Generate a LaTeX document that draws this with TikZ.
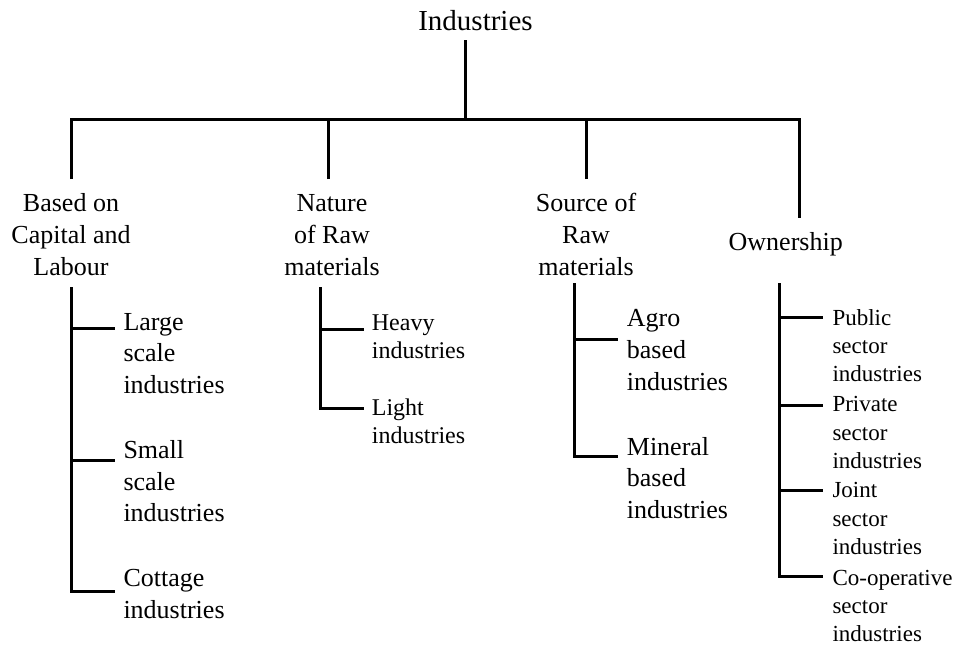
\documentclass[tikz,border=0pt]{standalone}
\usepackage{fontspec}
\setmainfont{Liberation Serif}
\begin{document}
\begin{tikzpicture}[x=1pt,y=-1pt,
  ln/.style={line width=3pt,line join=miter,line cap=butt},
  lzero/.style={font=\fontsize{29}{34}\selectfont,anchor=base,inner sep=0pt},
  lone/.style={font=\fontsize{26}{31.7}\selectfont,align=center,anchor=base,inner sep=0pt},
  ltwo/.style={font=\fontsize{26}{31.7}\selectfont,align=left,anchor=base west,inner sep=0pt},
  lthree/.style={font=\fontsize{24}{28.5}\selectfont,align=left,anchor=base west,inner sep=0pt},
  lfour/.style={font=\fontsize{23}{28.3}\selectfont,align=left,anchor=base west,inner sep=0pt}]
\useasboundingbox (0,0) rectangle (956,646);
% texts (anchor = baseline of the last line)
\node[lzero] (ind) at (475.5,30) {Industries};
\node[lone] (cap) at (71,275) {Based on\\Capital and\\Labour};
\node[lone] (nat) at (332,275) {Nature\\of Raw\\materials};
\node[lone] (src) at (586,275) {Source of\\Raw\\materials};
\node[lone] (own) at (785.7,250) {Ownership};
\node[ltwo] (large) at (123.3,393.4) {Large\\scale\\industries};
\node[ltwo] (small) at (123.3,521.7) {Small\\scale\\industries};
\node[ltwo] (cott) at (123.3,618.4) {Cottage\\industries};
\node[lthree] (heavy) at (371.7,358.5) {Heavy\\industries};
\node[lthree] (light) at (371.7,443.5) {Light\\industries};
\node[ltwo] (agro) at (626.7,390.1) {Agro\\based\\industries};
\node[ltwo] (mine) at (626.7,518.4) {Mineral\\based\\industries};
\node[lfour] (pub) at (832.3,381.6) {Public\\sector\\industries};
\node[lfour] (priv) at (832.3,468.3) {Private\\sector\\industries};
\node[lfour] (joint) at (832.3,554.3) {Joint\\sector\\industries};
\node[lfour] (coop) at (832.3,641.6) {Co-operative\\sector\\industries};
% top tree
\coordinate (t0) at (465.5,40);
\coordinate (b0) at (465.5,119.5);
\coordinate (bl) at (71.5,119.5);
\coordinate (br) at (799.5,119.5);
\coordinate (c1) at (71.5,179);
\coordinate (c2) at (328.5,179);
\coordinate (c3) at (586.5,179);
\coordinate (c4) at (799.5,218);
\draw[ln] (t0) -- (b0);
\draw[ln] (c1) -- (bl) -- (br) -- (c4);
\draw[ln] (c2) -- (c2 |- bl);
\draw[ln] (c3) -- (c3 |- bl);
% capital and labour
\coordinate (ca) at (71.5,287);
\coordinate (ca1) at (115,328.5);
\coordinate (ca2) at (115,460.5);
\coordinate (ca3) at (115,591.5);
\draw[ln] (ca) -- (ca |- ca3) -- (ca3);
\draw[ln] (ca |- ca1) -- (ca1);
\draw[ln] (ca |- ca2) -- (ca2);
% nature
\coordinate (na) at (320.5,287);
\coordinate (na1) at (364,329.5);
\coordinate (na2) at (364,408.5);
\draw[ln] (na) -- (na |- na2) -- (na2);
\draw[ln] (na |- na1) -- (na1);
% source
\coordinate (sa) at (574.5,283);
\coordinate (sa1) at (618,339.5);
\coordinate (sa2) at (618,456.5);
\draw[ln] (sa) -- (sa |- sa2) -- (sa2);
\draw[ln] (sa |- sa1) -- (sa1);
% ownership
\coordinate (oa) at (779.5,283);
\coordinate (oa1) at (823,317.5);
\coordinate (oa2) at (823,405.5);
\coordinate (oa3) at (823,490.5);
\coordinate (oa4) at (823,576.5);
\draw[ln] (oa) -- (oa |- oa4) -- (oa4);
\draw[ln] (oa |- oa1) -- (oa1);
\draw[ln] (oa |- oa2) -- (oa2);
\draw[ln] (oa |- oa3) -- (oa3);
\end{tikzpicture}
\end{document}
